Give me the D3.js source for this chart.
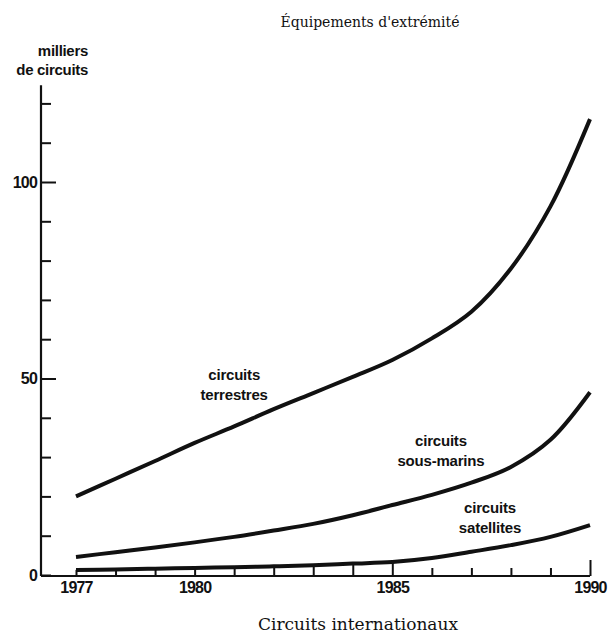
<!DOCTYPE html>
<html>
<head>
<meta charset="utf-8">
<script src="https://cdn.jsdelivr.net/npm/d3@7"></script>
<style>
  body { margin: 0; background: #fff; }
  text { fill: #111; }
</style>
</head>
<body>
<div id="chart"></div>
<script>
const years = [1977, 1978, 1979, 1980, 1981, 1982, 1983, 1984, 1985, 1986, 1987, 1988, 1989, 1990];
const labeledYears = [1977, 1980, 1985, 1990];
const terrestres = [20, 24.5, 29, 33.6, 37.8, 42.2, 46.3, 50.4, 54.7, 60.2, 67, 78, 93.8, 116];
const sousMarins = [4.6, 5.8, 7, 8.3, 9.7, 11.3, 13, 15.2, 17.8, 20.4, 23.5, 27.5, 34.4, 46.5];
const satellites = [1.3, 1.4, 1.6, 1.8, 2.0, 2.2, 2.5, 2.9, 3.3, 4.3, 5.9, 7.6, 9.7, 12.7];
const yTicks = [0, 10, 20, 30, 40, 50, 60, 70, 80, 90, 100, 110, 120];
const yLabels = [0, 50, 100];

const seriesLabels = [
  { lines: ["circuits", "terrestres"], year: 1981.0, value: 49.6 },
  { lines: ["circuits", "sous-marins"], year: 1986.23, value: 32.8 },
  { lines: ["circuits", "satellites"], year: 1987.47, value: 15.8 }
];

const width = 611, height = 633;
const axisX = 41;

const svg = d3.select("#chart")
  .append("svg")
  .attr("width", width)
  .attr("height", height);

const x = d3.scaleLinear().domain([1977, 1990]).range([76, 590]);
const y = d3.scaleLinear().domain([0, 120]).range([575, 103.4]);

const sans = "'Liberation Sans', Arial, sans-serif";
const serif = "'DejaVu Serif', 'Liberation Serif', serif";

// titles
svg.append("text")
  .attr("x", 370).attr("y", 27)
  .attr("text-anchor", "middle")
  .attr("font-family", serif)
  .attr("font-size", "14px")
  .text("Équipements d'extrémité");

svg.append("text")
  .attr("x", 358).attr("y", 630)
  .attr("text-anchor", "middle")
  .attr("font-family", serif)
  .attr("font-size", "17px")
  .text("Circuits internationaux");

const unit = svg.append("text")
  .attr("text-anchor", "end")
  .attr("font-family", sans)
  .attr("font-weight", "bold")
  .attr("font-size", "15px")
  .attr("letter-spacing", "-0.3px");
unit.append("tspan").attr("x", 88).attr("y", 56).text("milliers");
unit.append("tspan").attr("x", 88).attr("y", 75).text("de circuits");

// y axis
const yAxis = svg.append("g")
  .attr("transform", `translate(${axisX},0)`)
  .call(d3.axisLeft(y)
    .tickValues(yTicks)
    .tickSize(-10)
    .tickPadding(4)
    .tickFormat(d => yLabels.includes(d) ? d : ""));
yAxis.select(".domain").remove();
yAxis.selectAll(".tick line")
  .attr("stroke", "#111")
  .attr("stroke-width", 2)
  .attr("x2", d => (d === 50 || d === 100) ? 15 : 10);
yAxis.selectAll(".tick text")
  .attr("font-family", sans)
  .attr("font-weight", "bold")
  .attr("font-size", "16px")
  .attr("letter-spacing", "-0.8px")
  .attr("fill", "#111");
yAxis.append("line")
  .attr("x1", 0).attr("x2", 0)
  .attr("y1", y(0) + 1).attr("y2", y(124.6))
  .attr("stroke", "#111")
  .attr("stroke-width", 2.2);

// x axis
const xAxis = svg.append("g")
  .attr("transform", `translate(0,${y(0) + 1})`)
  .call(d3.axisBottom(x)
    .tickValues(years)
    .tickSize(-8)
    .tickPadding(6)
    .tickFormat(d => labeledYears.includes(d) ? d : ""));
xAxis.select(".domain").remove();
xAxis.selectAll(".tick line")
  .attr("stroke", "#111")
  .attr("stroke-width", 2)
  .attr("y2", (d, i) => {
    if (d <= 1985) return y(satellites[i]) - y(0) - 1;
    if (d === 1990) return -16;
    return -8;
  });
xAxis.selectAll(".tick text")
  .attr("font-family", sans)
  .attr("font-weight", "bold")
  .attr("font-size", "16px")
  .attr("letter-spacing", "-0.8px")
  .attr("fill", "#111");
xAxis.append("line")
  .attr("x1", axisX).attr("x2", x(1990))
  .attr("y1", 0).attr("y2", 0)
  .attr("stroke", "#111")
  .attr("stroke-width", 1.8);

// curves
const line = d3.line()
  .x((d, i) => x(years[i]))
  .y(d => y(d))
  .curve(d3.curveCatmullRom.alpha(0.5));

[terrestres, sousMarins, satellites].forEach(s => {
  svg.append("path")
    .attr("fill", "none")
    .attr("stroke", "#111")
    .attr("stroke-width", 4)
    .attr("d", line(s));
});

// series labels
seriesLabels.forEach(l => {
  const t = svg.append("text")
    .attr("text-anchor", "middle")
    .attr("font-family", sans)
    .attr("font-weight", "bold")
    .attr("font-size", "15px")
    .attr("letter-spacing", "-0.2px");
  l.lines.forEach((s, i) => {
    t.append("tspan")
      .attr("x", x(l.year))
      .attr("y", y(l.value) + i * 20)
      .text(s);
  });
});
</script>
</body>
</html>
